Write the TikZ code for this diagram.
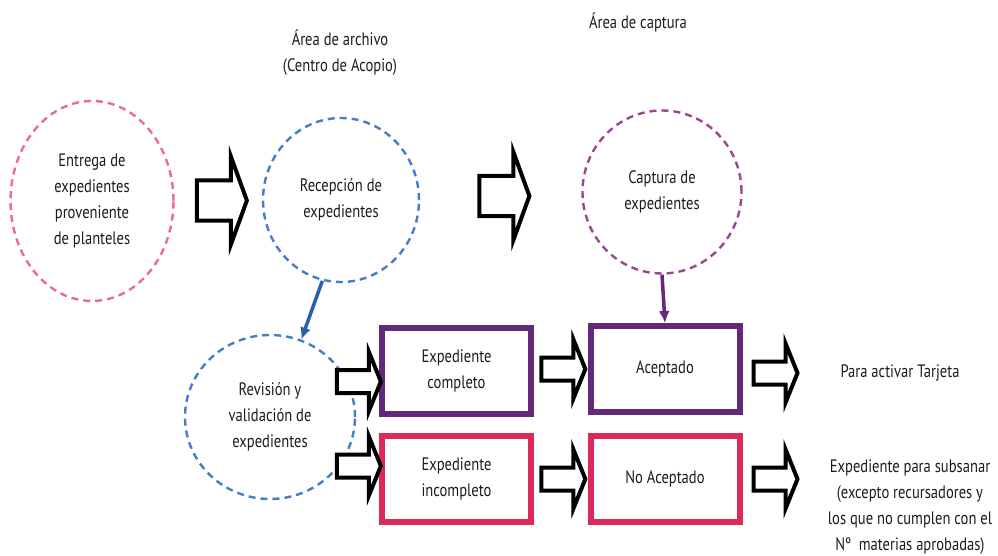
\documentclass[tikz,border=0pt]{standalone}
\usepackage{fontspec}
\setmainfont{PT Sans}[FakeStretch=0.81]
\usetikzlibrary{arrows.meta,positioning,calc,shapes.geometric,shapes.arrows}
\definecolor{rosa}{RGB}{238,105,150}
\definecolor{azul}{RGB}{70,125,200}
\definecolor{azulosc}{RGB}{40,95,175}
\definecolor{morado}{RGB}{155,70,145}
\definecolor{moradosc}{RGB}{100,40,120}
\definecolor{carmin}{RGB}{220,40,90}
\definecolor{texto}{RGB}{30,27,28}

\begin{document}
\begin{tikzpicture}[x=1pt,y=-1pt,>=Latex,font=\fontsize{18}{26}\selectfont,text=texto,
  etapa/.style={ellipse,line width=2.4pt,dash pattern=on 7pt off 5pt,inner sep=0pt,align=center},
  caja/.style={draw,line width=6pt,fill=white,minimum width=149pt,minimum height=86pt,inner sep=0pt,align=center},
  flecha/.style={single arrow,draw=black,fill=white,line width=4pt,inner xsep=0pt,inner ysep=18pt,minimum height=50pt,single arrow head extend=24pt,single arrow tip angle=140},
  flechita/.style={single arrow,draw=black,fill=white,line width=4pt,inner xsep=0pt,inner ysep=9.5pt,minimum height=44pt,single arrow head extend=18pt,single arrow tip angle=136}]
\useasboundingbox (0,0) rectangle (998,556);

\node[etapa,draw=rosa,minimum width=163pt,minimum height=200pt] (ent) at (92,201) {Entrega de\\expedientes\\proveniente\\de planteles};
\node[etapa,draw=azul,minimum width=156pt,minimum height=164pt] (rec) at (341,200) {Recepción de\\expedientes};
\node[etapa,draw=morado,minimum width=159pt,minimum height=163pt] (cap) at (662,192) {Captura de\\expedientes};
\node[etapa,draw=azul,minimum width=170pt,minimum height=164pt] (rev) at (270,417) {Revisión y\\validación de\\expedientes};

\node[caja,draw=moradosc] (comp) at (456.5,370.5) {Expediente\\completo};
\node[caja,draw=moradosc] (acep) at (665,369) {Aceptado};
\node[caja,draw=carmin] (incomp) at (456.5,479) {Expediente\\incompleto};
\node[caja,draw=carmin] (noacep) at (665,479) {No Aceptado};

\node[flecha] (f1) at ($(ent.east)!0.5!(rec.west)$) {};
\node[flecha] (f2) at ($(rec.east)!0.5!(cap.west)$) {};
\node[flechita,anchor=tip] (f3) at ($(comp.west)+(4,11)$) {};
\node[flechita,anchor=tip] (f4) at ($(incomp.west)+(4,-13)$) {};
\node[flechita,anchor=tip] (f5) at (acep.west) {};
\node[flechita,anchor=tip] (f6) at (noacep.west) {};
\node[flechita,anchor=tail] (f7) at ($(acep.east)+(9,4)$) {};
\node[flechita,anchor=tail] (f8) at ($(noacep.east)+(9,0)$) {};

\draw[azulosc,line width=3.5pt,-{Latex[length=12pt,width=11pt]}] (rec.-103) -- (rev.68);
\draw[moradosc,line width=3.5pt,-{Latex[length=12pt,width=11pt]}] (cap.south) -- (acep.north);

\node[align=center] (archivo) at (340,53) {Área de archivo\\(Centro de Acopio)};
\node (captura) at (638,22) {Área de captura};
\node (tarjeta) at (900,373) {Para activar Tarjeta};
\node[align=center] (subsanar) at (910,507) {Expediente para subsanar\\(excepto recursadores y\\los que no cumplen con el\\Nº~ materias aprobadas)};
\end{tikzpicture}
\end{document}
